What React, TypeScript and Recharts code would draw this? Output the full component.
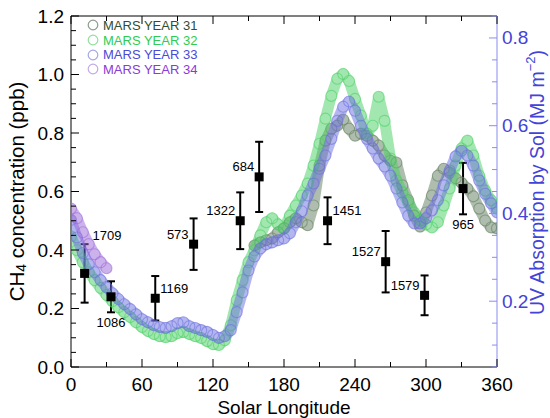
import { ComposedChart, Scatter, XAxis, YAxis, ErrorBar, Legend } from "recharts";

// Solar longitude grid for the daily UV series (5° steps)
const LS = [
  0, 5, 10, 15, 20, 25, 30, 35, 40, 45, 50, 55, 60, 65, 70, 75, 80, 85, 90, 95,
  100, 105, 110, 115, 120, 125, 130, 135, 140, 145, 150, 155, 160, 165, 170, 175,
  180, 185, 190, 195, 200, 205, 210, 215, 220, 225, 230, 235, 240, 245, 250, 255,
  260, 265, 270, 275, 280, 285, 290, 295, 300, 305, 310, 315, 320, 325, 330, 335,
  340, 345, 350, 355, 360,
];

// UV absorption by sol (MJ m^-2) per Mars year
// MY31 starts at Ls 155 (after landing)
const MY31_UV = [
  0.327, 0.334, 0.339, 0.343, 0.357, 0.366, 0.38, 0.389, 0.38, 0.373, 0.418,
  0.509, 0.566, 0.593, 0.6, 0.614, 0.593, 0.577, 0.582, 0.577, 0.566, 0.555,
  0.532, 0.52, 0.516, 0.464, 0.43, 0.395, 0.37, 0.402, 0.441, 0.486, 0.502,
  0.493, 0.48, 0.47, 0.457, 0.439, 0.411, 0.384, 0.368, 0.366,
];
const MY32_UV = [
  0.348, 0.316, 0.289, 0.266, 0.248, 0.23, 0.214, 0.2, 0.186, 0.175, 0.164,
  0.152, 0.141, 0.132, 0.125, 0.12, 0.118, 0.12, 0.127, 0.13, 0.125, 0.12,
  0.116, 0.109, 0.102, 0.1, 0.111, 0.145, 0.202, 0.248, 0.289, 0.316, 0.35,
  0.38, 0.389, 0.375, 0.366, 0.395, 0.418, 0.441, 0.468, 0.509, 0.559, 0.616,
  0.668, 0.707, 0.718, 0.702, 0.661, 0.623, 0.582, 0.6, 0.666, 0.611, 0.525,
  0.475, 0.448, 0.425, 0.402, 0.384, 0.375, 0.368, 0.38, 0.418, 0.457, 0.509,
  0.548, 0.566, 0.532, 0.486, 0.452, 0.43, 0.411,
];
const MY33_UV = [
  0.385, 0.345, 0.31, 0.284, 0.266, 0.248, 0.232, 0.218, 0.205, 0.193, 0.182,
  0.17, 0.159, 0.152, 0.145, 0.141, 0.139, 0.143, 0.15, 0.152, 0.143, 0.139,
  0.134, 0.13, 0.123, 0.116, 0.12, 0.134, 0.175, 0.22, 0.27, 0.302, 0.32, 0.33,
  0.334, 0.339, 0.343, 0.355, 0.38, 0.405, 0.441, 0.468, 0.502, 0.532, 0.57,
  0.611, 0.643, 0.655, 0.634, 0.6, 0.57, 0.548, 0.525, 0.507, 0.486, 0.457,
  0.425, 0.395, 0.377, 0.377, 0.389, 0.407, 0.43, 0.464, 0.498, 0.53, 0.543,
  0.532, 0.509, 0.475, 0.445, 0.423, 0.402,
];
// MY34 covers Ls 0-30
const MY34_UV = [0.411, 0.389, 0.357, 0.33, 0.307, 0.289, 0.275];

// TLS methane measurements
const CH4_LS = [11.5, 33.8, 71.2, 103.6, 143, 159, 216.8, 265.9, 298.8, 331.3];
const CH4_PPB = [0.32, 0.24, 0.235, 0.42, 0.5, 0.65, 0.5, 0.36, 0.245, 0.61];
const CH4_ERR = [0.1, 0.053, 0.076, 0.088, 0.097, 0.12, 0.08, 0.105, 0.068, 0.088];
const CH4_SOL = ["1709", "1086", "1169", "573", "1322", "684", "1451", "1527", "1579", "965"];
const SOL_SIDE = ["rightTop", "below", "right", "left", "left", "left", "right", "left", "left", "below"];

const X_TICKS = [0, 30, 60, 90, 120, 150, 180, 210, 240, 270, 300, 330, 360];
const LEFT_TICKS = [
  0, 0.05, 0.1, 0.15, 0.2, 0.25, 0.3, 0.35, 0.4, 0.45, 0.5, 0.55, 0.6, 0.65,
  0.7, 0.75, 0.8, 0.85, 0.9, 0.95, 1.0, 1.05, 1.1, 1.15, 1.2,
];
const RIGHT_TICKS = [
  0.05, 0.1, 0.15, 0.2, 0.25, 0.3, 0.35, 0.4, 0.45, 0.5, 0.55, 0.6, 0.65, 0.7,
  0.75, 0.8, 0.85,
];

const YEARS = ["MARS YEAR 31", "MARS YEAR 32", "MARS YEAR 33", "MARS YEAR 34"];
const BAND = ["#5e7c5b", "#45d060", "#6a6ee0", "#9a66d8"];
const RING = ["#8c9c8c", "#8fe09f", "#a4a6e6", "#c2a8ea"];
const TEXT = ["#2f4f2f", "#2fcc4f", "#4a4ad6", "#8a3ad6"];

const FONT = '"Liberation Sans", Arial, Helvetica, sans-serif';
const UV_BLUE = "#4343d8";
const UV_AXIS = "#8a8cf0";

const toPoints = (xs: number[], ys: number[]) => ys.map((v, i) => ({ ls: xs[i], v }));
const uvSeries = [
  toPoints(LS.slice(31), MY31_UV),
  toPoints(LS, MY32_UV),
  toPoints(LS, MY33_UV),
  toPoints(LS, MY34_UV),
];
const ch4Points = CH4_LS.map((ls, i) => ({ ls, v: CH4_PPB[i], err: CH4_ERR[i] }));
// label anchors: the value, the top of the error bar or its bottom
const solLabels = CH4_LS.map((ls, i) => {
  const side = SOL_SIDE[i];
  const v =
    side === "below" ? CH4_PPB[i] - CH4_ERR[i] : side === "rightTop" ? CH4_PPB[i] + CH4_ERR[i] : CH4_PPB[i];
  return { ls, v, text: CH4_SOL[i], side };
});

const isMajor = (v: number, step: number) => Math.abs(v / step - Math.round(v / step)) < 1e-6;

function BottomTick({ x, y, payload }: any) {
  const major = isMajor(payload.value, 60);
  return (
    <g>
      <line x1={x} x2={x} y1={y} y2={y - (major ? 8 : 5)} stroke="#000" />
      {major && (
        <text x={x} y={y + 17} textAnchor="middle" dominantBaseline="central" fontSize={19} fill="#000" fontFamily={FONT}>
          {payload.value}
        </text>
      )}
    </g>
  );
}

function TopTick({ x, y, payload }: any) {
  const major = isMajor(payload.value, 60);
  return <line x1={x} x2={x} y1={y} y2={y + (major ? 8 : 5)} stroke="#000" />;
}

function LeftTick({ x, y, payload }: any) {
  const major = isMajor(payload.value, 0.2);
  return (
    <g>
      <line x1={x} x2={x + (major ? 8 : 5)} y1={y} y2={y} stroke="#000" />
      {major && (
        <text x={x - 7} y={y} textAnchor="end" dominantBaseline="central" fontSize={19} fill="#000" fontFamily={FONT}>
          {payload.value.toFixed(1)}
        </text>
      )}
    </g>
  );
}

function RightTick({ x, y, payload }: any) {
  const major = isMajor(payload.value, 0.2);
  return (
    <g>
      <line x1={x} x2={x - (major ? 8 : 5)} y1={y} y2={y} stroke={UV_AXIS} />
      {major && (
        <text x={x + 5} y={y} textAnchor="start" dominantBaseline="central" fontSize={19} fill={UV_BLUE} fontFamily={FONT}>
          {payload.value.toFixed(1)}
        </text>
      )}
    </g>
  );
}

const ring = (color: string) => (props: any) =>
  <circle cx={props.cx} cy={props.cy} r={5.5} fill="none" stroke={color} strokeOpacity={0.55} strokeWidth={1.1} />;

const square = (props: any) => <rect x={props.cx - 4.5} y={props.cy - 4.5} width={9} height={9} fill="#000" />;

function SolLabel(props: any) {
  const { cx, cy, payload } = props;
  const common = { fontSize: 13, fill: "#000", fontFamily: FONT, dominantBaseline: "central" as const };
  if (payload.side === "left")
    return <text x={cx - 5} y={cy - 10} textAnchor="end" {...common}>{payload.text}</text>;
  if (payload.side === "right")
    return <text x={cx + 5} y={cy - 10} textAnchor="start" {...common}>{payload.text}</text>;
  if (payload.side === "rightTop")
    return <text x={cx + 8} y={cy - 9} textAnchor="start" {...common}>{payload.text}</text>;
  return <text x={cx} y={cy + 10} textAnchor="middle" {...common}>{payload.text}</text>;
}

function YearLegend() {
  return (
    <div style={{ display: "flex", flexDirection: "column", fontSize: 13, fontFamily: FONT }}>
      {YEARS.map((name, i) => (
        <div key={name} style={{ display: "flex", alignItems: "center", height: 14.7, whiteSpace: "nowrap" }}>
          <svg width={12} height={12}>
            <circle cx={6} cy={6} r={4.8} fill="none" stroke={RING[i]} strokeWidth={1.2} />
          </svg>
          <span style={{ marginLeft: 4, color: TEXT[i] }}>{name}</span>
        </div>
      ))}
    </div>
  );
}

// axis titles are placed from the axis box handed to the label
const LeftTitle = ({ viewBox }: any) => {
  const x = viewBox.x + viewBox.width - 55;
  const y = viewBox.y + viewBox.height / 2;
  return (
    <text x={x} y={y} transform={`rotate(-90 ${x} ${y})`} textAnchor="middle" dominantBaseline="central" fontSize={20.5} fontFamily={FONT} fill="#000">
      CH<tspan dy={5} fontSize={14}>4</tspan>
      <tspan dy={-5}> concentration (ppb)</tspan>
    </text>
  );
};

const RightTitle = ({ viewBox }: any) => {
  const x = viewBox.x + 40;
  const y = viewBox.y + viewBox.height / 2 - 9;
  return (
    <text x={x} y={y} transform={`rotate(-90 ${x} ${y})`} textAnchor="middle" dominantBaseline="central" fontSize={19.5} fontFamily={FONT} fill={UV_BLUE}>
      UV Absorption by Sol (MJ m<tspan dy={-7} fontSize={13}>−2</tspan>
      <tspan dy={7}>)</tspan>
    </text>
  );
};

const BottomTitle = ({ viewBox }: any) => (
  <text x={viewBox.x + viewBox.width / 2} y={viewBox.y + 40} textAnchor="middle" dominantBaseline="central" fontSize={19} fontFamily={FONT} fill="#000">
    Solar Longitude
  </text>
);

export default function App() {
  return (
    <div style={{ position: "absolute", left: 0, top: 0, width: 550, height: 418, background: "#fff" }}>
      <ComposedChart width={550} height={418} margin={{ top: 15, right: 52, bottom: 50, left: 70 }}>
        <XAxis
          xAxisId="b"
          type="number"
          dataKey="ls"
          domain={[0, 360]}
          ticks={X_TICKS}
          interval={0}
          height={1}
          tickSize={0}
          tickMargin={0}
          tickLine={false}
          axisLine={{ stroke: "#000" }}
          tick={<BottomTick />}
          allowDataOverflow
          label={{ content: BottomTitle }}
        />
        <XAxis
          xAxisId="t"
          orientation="top"
          type="number"
          dataKey="ls"
          domain={[0, 360]}
          ticks={X_TICKS}
          interval={0}
          height={1}
          tickSize={0}
          tickMargin={0}
          tickLine={false}
          axisLine={{ stroke: "#000" }}
          tick={<TopTick />}
          allowDataOverflow
        />
        <YAxis
          yAxisId="ch4"
          type="number"
          dataKey="v"
          domain={[0, 1.2]}
          ticks={LEFT_TICKS}
          interval={0}
          width={1}
          tickSize={0}
          tickMargin={0}
          tickLine={false}
          axisLine={{ stroke: "#000" }}
          tick={<LeftTick />}
          allowDataOverflow
          label={{ content: LeftTitle }}
        />
        <YAxis
          yAxisId="uv"
          orientation="right"
          type="number"
          dataKey="v"
          domain={[0.05, 0.85]}
          ticks={RIGHT_TICKS}
          interval={0}
          width={1}
          tickSize={0}
          tickMargin={0}
          tickLine={false}
          axisLine={{ stroke: UV_AXIS }}
          tick={<RightTick />}
          allowDataOverflow
          label={{ content: RightTitle }}
        />
        {uvSeries.map((data, i) => (
          <Scatter
            key={YEARS[i]}
            name={YEARS[i]}
            data={data}
            dataKey="v"
            xAxisId="b"
            yAxisId="uv"
            isAnimationActive={false}
            line={{ stroke: BAND[i], strokeWidth: 11, strokeOpacity: 0.5, strokeLinejoin: "round", strokeLinecap: "round" }}
            lineType="joint"
            shape={ring(BAND[i])}
          />
        ))}
        <Scatter
          name="CH4"
          data={ch4Points}
          dataKey="v"
          xAxisId="b"
          yAxisId="ch4"
          isAnimationActive={false}
          shape={square}
        >
          <ErrorBar dataKey="err" direction="y" width={4} stroke="#000" strokeWidth={2} />
        </Scatter>
        <Scatter
          name="sol"
          data={solLabels}
          dataKey="v"
          xAxisId="b"
          yAxisId="ch4"
          isAnimationActive={false}
          shape={SolLabel}
        />
        <Legend
          layout="horizontal"
          verticalAlign="middle"
          align="center"
          wrapperStyle={{ position: "absolute", left: 87, top: 18, width: "auto", height: "auto" }}
          content={() => <YearLegend />}
        />
      </ComposedChart>
    </div>
  );
}
